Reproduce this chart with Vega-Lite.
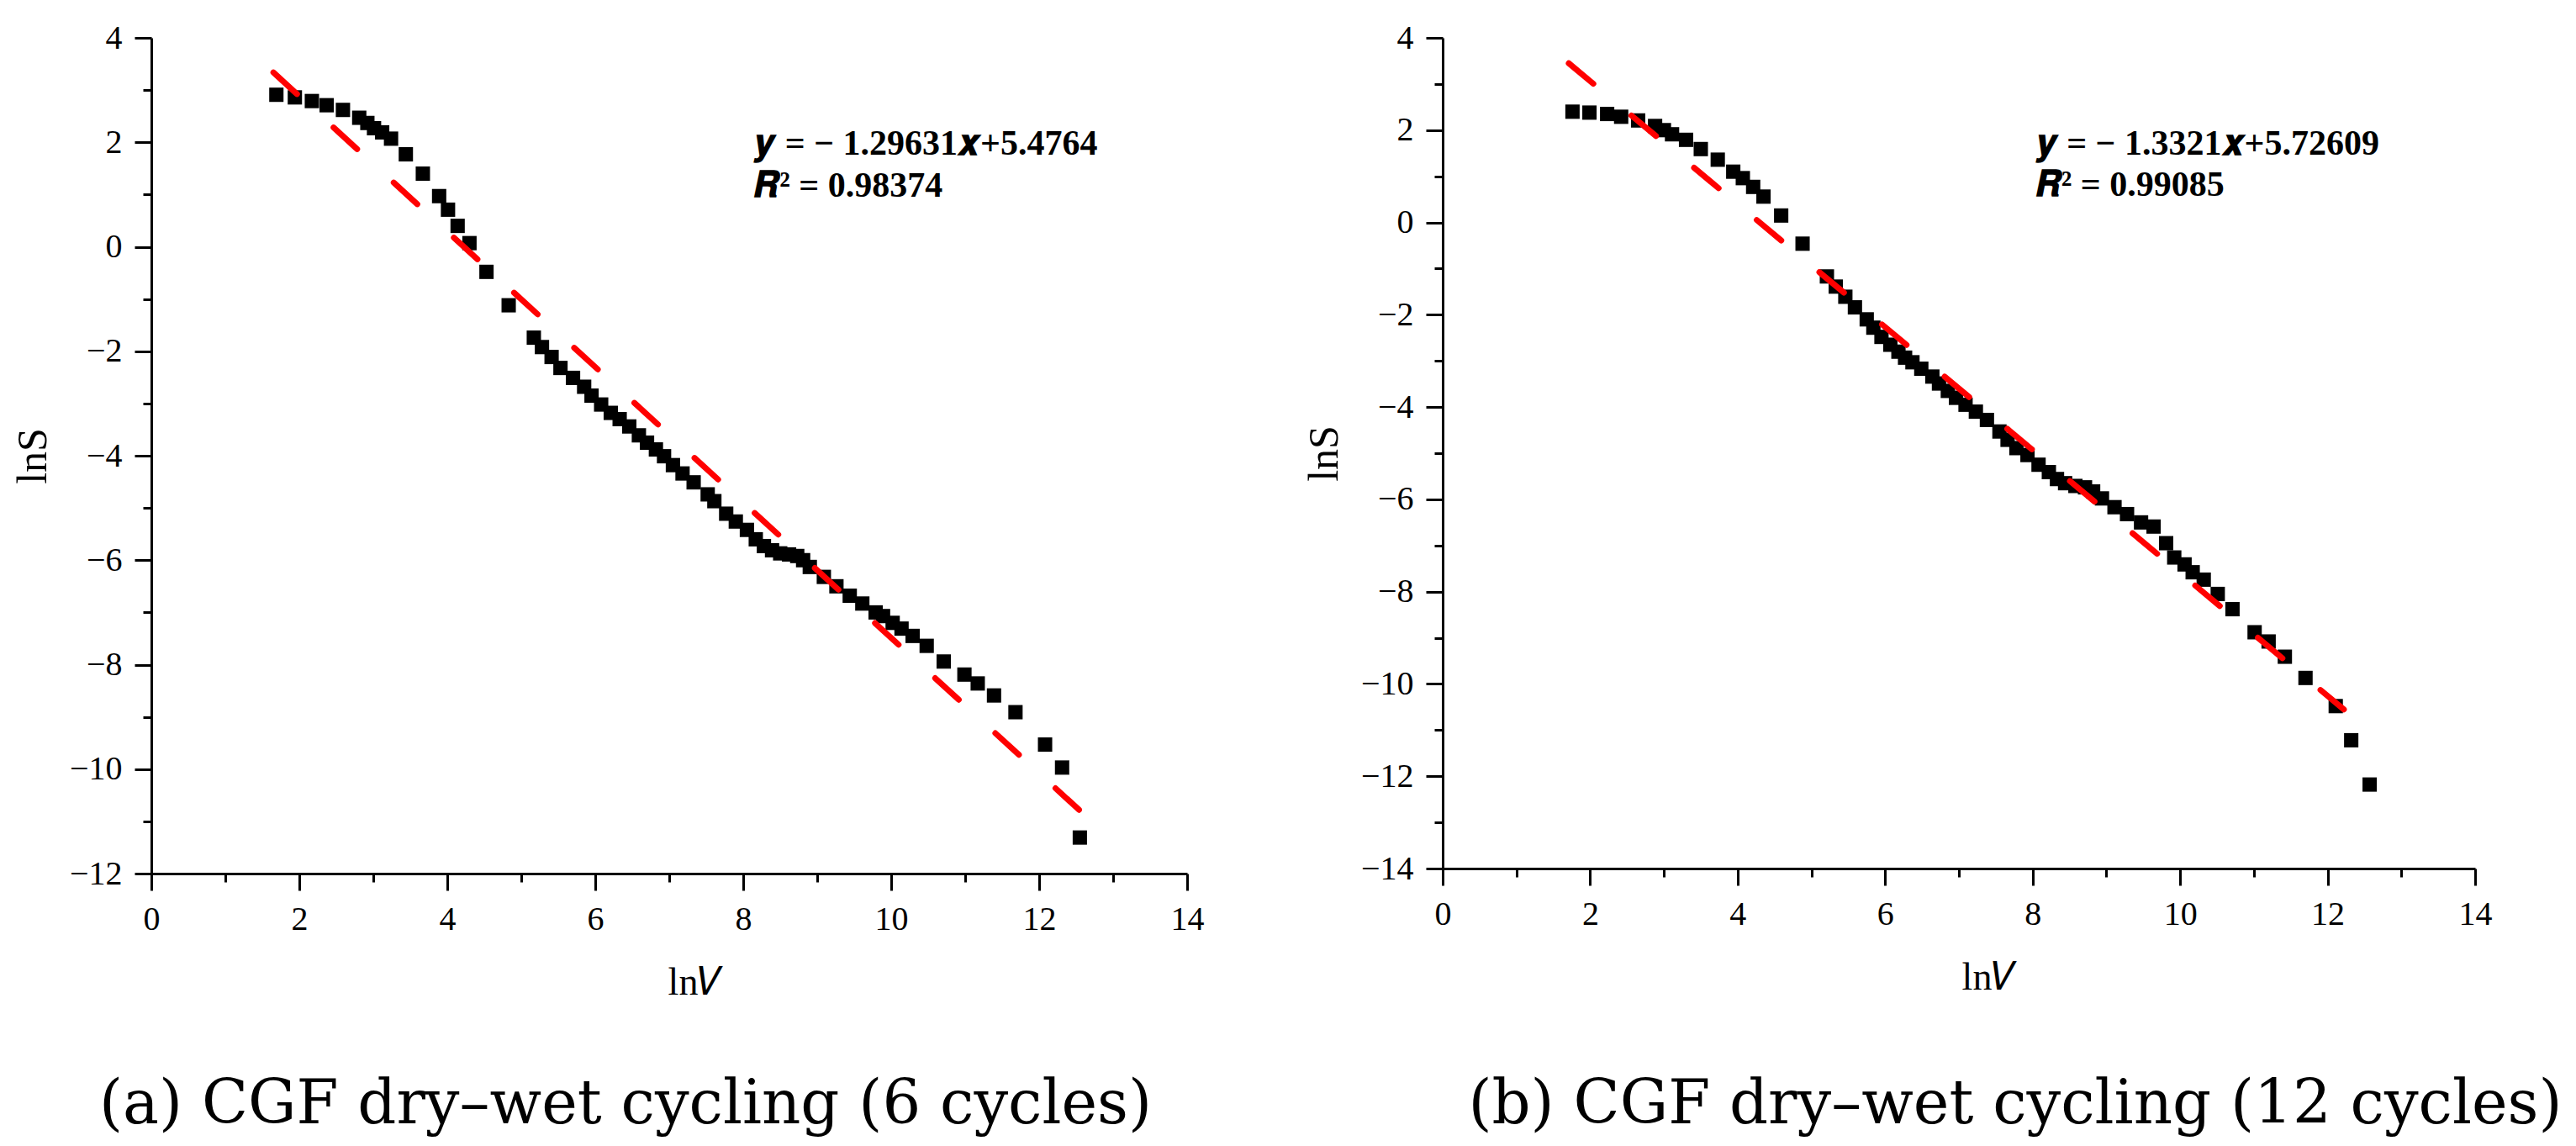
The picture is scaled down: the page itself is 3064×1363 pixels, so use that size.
{
  "$schema": "https://vega.github.io/schema/vega-lite/v6.json",
  "background": "white",
  "padding": {"left": 14, "top": 25, "right": 0, "bottom": 30},
  "config": {
    "view": {"stroke": null},
    "font": "Liberation Serif",
    "axis": {
      "grid": false,
      "domainColor": "black",
      "domainWidth": 3,
      "tickColor": "black",
      "tickWidth": 3,
      "labelColor": "black",
      "labelFont": "Liberation Serif",
      "labelFontSize": 40,
      "labelOverlap": false,
      "labelFlush": false,
      "format": "d",
      "titleColor": "black",
      "titleFont": "Liberation Serif",
      "titleFontWeight": "normal"
    }
  },
  "datasets": {
    "cycles6": [
      {"lnV": 1.69, "lnS": 2.91}, {"lnV": 1.94, "lnS": 2.86}, {"lnV": 2.17, "lnS": 2.79},
      {"lnV": 2.37, "lnS": 2.71}, {"lnV": 2.59, "lnS": 2.62}, {"lnV": 2.81, "lnS": 2.47},
      {"lnV": 2.92, "lnS": 2.37}, {"lnV": 3.01, "lnS": 2.27}, {"lnV": 3.12, "lnS": 2.19},
      {"lnV": 3.24, "lnS": 2.07}, {"lnV": 3.44, "lnS": 1.77}, {"lnV": 3.67, "lnS": 1.4},
      {"lnV": 3.89, "lnS": 0.97}, {"lnV": 4.01, "lnS": 0.71}, {"lnV": 4.14, "lnS": 0.4},
      {"lnV": 4.3, "lnS": 0.07}, {"lnV": 4.53, "lnS": -0.48}, {"lnV": 4.83, "lnS": -1.12},
      {"lnV": 5.17, "lnS": -1.74}, {"lnV": 5.28, "lnS": -1.92}, {"lnV": 5.41, "lnS": -2.11},
      {"lnV": 5.53, "lnS": -2.32}, {"lnV": 5.7, "lnS": -2.51}, {"lnV": 5.85, "lnS": -2.68},
      {"lnV": 5.95, "lnS": -2.85}, {"lnV": 6.08, "lnS": -3.02}, {"lnV": 6.21, "lnS": -3.18},
      {"lnV": 6.33, "lnS": -3.3}, {"lnV": 6.46, "lnS": -3.44}, {"lnV": 6.59, "lnS": -3.61},
      {"lnV": 6.7, "lnS": -3.75}, {"lnV": 6.82, "lnS": -3.88}, {"lnV": 6.93, "lnS": -4.01},
      {"lnV": 7.05, "lnS": -4.18}, {"lnV": 7.18, "lnS": -4.34}, {"lnV": 7.33, "lnS": -4.51},
      {"lnV": 7.52, "lnS": -4.74}, {"lnV": 7.61, "lnS": -4.87}, {"lnV": 7.77, "lnS": -5.11},
      {"lnV": 7.9, "lnS": -5.26}, {"lnV": 8.05, "lnS": -5.42}, {"lnV": 8.17, "lnS": -5.6},
      {"lnV": 8.28, "lnS": -5.73}, {"lnV": 8.39, "lnS": -5.81}, {"lnV": 8.5, "lnS": -5.87},
      {"lnV": 8.62, "lnS": -5.89}, {"lnV": 8.73, "lnS": -5.92}, {"lnV": 8.81, "lnS": -6.0},
      {"lnV": 8.9, "lnS": -6.13}, {"lnV": 9.09, "lnS": -6.32}, {"lnV": 9.26, "lnS": -6.5},
      {"lnV": 9.44, "lnS": -6.68}, {"lnV": 9.61, "lnS": -6.83}, {"lnV": 9.79, "lnS": -7.0},
      {"lnV": 9.89, "lnS": -7.07}, {"lnV": 10.02, "lnS": -7.2}, {"lnV": 10.14, "lnS": -7.31},
      {"lnV": 10.29, "lnS": -7.45}, {"lnV": 10.48, "lnS": -7.64}, {"lnV": 10.71, "lnS": -7.94},
      {"lnV": 10.99, "lnS": -8.19}, {"lnV": 11.17, "lnS": -8.36}, {"lnV": 11.39, "lnS": -8.59},
      {"lnV": 11.68, "lnS": -8.91}, {"lnV": 12.08, "lnS": -9.53}, {"lnV": 12.31, "lnS": -9.97},
      {"lnV": 12.55, "lnS": -11.31}
    ],
    "cycles12": [
      {"lnV": 1.76, "lnS": 2.4}, {"lnV": 1.99, "lnS": 2.38}, {"lnV": 2.23, "lnS": 2.35},
      {"lnV": 2.42, "lnS": 2.29}, {"lnV": 2.65, "lnS": 2.21}, {"lnV": 2.88, "lnS": 2.09},
      {"lnV": 3.0, "lnS": 2.0}, {"lnV": 3.11, "lnS": 1.91}, {"lnV": 3.3, "lnS": 1.79},
      {"lnV": 3.5, "lnS": 1.59}, {"lnV": 3.73, "lnS": 1.36}, {"lnV": 3.94, "lnS": 1.1},
      {"lnV": 4.07, "lnS": 0.96}, {"lnV": 4.21, "lnS": 0.77}, {"lnV": 4.35, "lnS": 0.56},
      {"lnV": 4.59, "lnS": 0.15}, {"lnV": 4.88, "lnS": -0.46}, {"lnV": 5.21, "lnS": -1.17},
      {"lnV": 5.33, "lnS": -1.39}, {"lnV": 5.46, "lnS": -1.61}, {"lnV": 5.59, "lnS": -1.84},
      {"lnV": 5.75, "lnS": -2.1}, {"lnV": 5.84, "lnS": -2.28}, {"lnV": 5.95, "lnS": -2.48},
      {"lnV": 6.07, "lnS": -2.65}, {"lnV": 6.18, "lnS": -2.8}, {"lnV": 6.27, "lnS": -2.93},
      {"lnV": 6.37, "lnS": -3.03}, {"lnV": 6.49, "lnS": -3.17}, {"lnV": 6.64, "lnS": -3.34},
      {"lnV": 6.73, "lnS": -3.49}, {"lnV": 6.85, "lnS": -3.65}, {"lnV": 6.96, "lnS": -3.8},
      {"lnV": 7.09, "lnS": -3.95}, {"lnV": 7.23, "lnS": -4.1}, {"lnV": 7.38, "lnS": -4.28},
      {"lnV": 7.55, "lnS": -4.53}, {"lnV": 7.66, "lnS": -4.71}, {"lnV": 7.78, "lnS": -4.89},
      {"lnV": 7.93, "lnS": -5.04}, {"lnV": 8.08, "lnS": -5.25}, {"lnV": 8.22, "lnS": -5.41},
      {"lnV": 8.33, "lnS": -5.56}, {"lnV": 8.44, "lnS": -5.65}, {"lnV": 8.58, "lnS": -5.71},
      {"lnV": 8.71, "lnS": -5.74}, {"lnV": 8.82, "lnS": -5.83}, {"lnV": 8.94, "lnS": -5.98},
      {"lnV": 9.11, "lnS": -6.17}, {"lnV": 9.28, "lnS": -6.32}, {"lnV": 9.47, "lnS": -6.5},
      {"lnV": 9.64, "lnS": -6.59}, {"lnV": 9.81, "lnS": -6.95}, {"lnV": 9.92, "lnS": -7.26},
      {"lnV": 10.06, "lnS": -7.41}, {"lnV": 10.17, "lnS": -7.58}, {"lnV": 10.32, "lnS": -7.74},
      {"lnV": 10.51, "lnS": -8.05}, {"lnV": 10.71, "lnS": -8.38}, {"lnV": 11.01, "lnS": -8.88},
      {"lnV": 11.2, "lnS": -9.08}, {"lnV": 11.42, "lnS": -9.41}, {"lnV": 11.7, "lnS": -9.87},
      {"lnV": 12.11, "lnS": -10.48}, {"lnV": 12.32, "lnS": -11.22}, {"lnV": 12.57, "lnS": -12.18}
    ],
    "fit": [
      {"panel": "a", "lnV": 1.65, "lnS": 3.337},
      {"panel": "a", "lnV": 12.58, "lnS": -10.832},
      {"panel": "b", "lnV": 1.71, "lnS": 3.448},
      {"panel": "b", "lnV": 12.22, "lnS": -10.552}
    ],
    "equation": [
      {"panel": "a", "lnV": 8.15, "lnS": 1.76, "label": "𝒚 = − 1.29631𝒙+5.4764"},
      {"panel": "a", "lnV": 8.15, "lnS": 0.96, "label": "𝑹² = 0.98374"},
      {"panel": "b", "lnV": 8.045, "lnS": 1.46, "label": "𝒚 = − 1.3321𝒙+5.72609"},
      {"panel": "b", "lnV": 8.045, "lnS": 0.57, "label": "𝑹² = 0.99085"}
    ]
  },
  "spacing": 118,
  "hconcat": [
    {
      "width": 1232,
      "height": 994,
      "title": {
        "text": "(a) CGF dry–wet cycling (6 cycles)",
        "orient": "bottom",
        "anchor": "middle",
        "frame": "group",
        "font": "DejaVu Serif",
        "fontSize": 72,
        "fontWeight": "normal",
        "color": "black",
        "offset": 88,
        "dx": -52
      },
      "layer": [
        {
          "data": {"name": "cycles6"},
          "mark": {"type": "point", "shape": "square", "filled": true, "size": 290, "color": "black", "opacity": 1},
          "encoding": {
            "x": {
              "field": "lnV",
              "type": "quantitative",
              "scale": {"domain": [0, 14], "nice": false, "zero": false},
              "axis": {
                "title": "ln𝑉",
                "titleFontSize": 46,
                "titlePadding": 33,
                "titleX": 647,
                "values": [0, 1, 2, 3, 4, 5, 6, 7, 8, 9, 10, 11, 12, 13, 14],
                "labelExpr": "datum.value % 2 === 0 ? datum.label : ''",
                "tickSize": {"expr": "datum.value % 2 === 0 ? 20 : 10"},
                "labelPadding": 14
              }
            },
            "y": {
              "field": "lnS",
              "type": "quantitative",
              "scale": {"domain": [-12, 4], "nice": false, "zero": false},
              "axis": {
                "title": "lnS",
                "titleFontSize": 50,
                "titlePadding": 18,
                "values": [-12, -11, -10, -9, -8, -7, -6, -5, -4, -3, -2, -1, 0, 1, 2, 3, 4],
                "labelExpr": "datum.value % 2 === 0 ? datum.label : ''",
                "tickSize": {"expr": "datum.value % 2 === 0 ? 20 : 10"},
                "labelPadding": 15
              }
            }
          }
        },
        {
          "data": {"name": "fit"},
          "transform": [{"filter": "datum.panel === 'a'"}],
          "mark": {"type": "line", "color": "#ff0000", "strokeWidth": 7, "strokeDash": [38, 59], "strokeCap": "round"},
          "encoding": {
            "x": {"field": "lnV", "type": "quantitative"},
            "y": {"field": "lnS", "type": "quantitative"}
          }
        },
        {
          "data": {"name": "equation"},
          "transform": [{"filter": "datum.panel === 'a'"}],
          "mark": {"type": "text", "align": "left", "baseline": "alphabetic", "font": "Liberation Serif", "fontSize": 42, "fontWeight": "bold", "color": "black"},
          "encoding": {
            "x": {"field": "lnV", "type": "quantitative"},
            "y": {"field": "lnS", "type": "quantitative"},
            "text": {"field": "label"}
          }
        }
      ]
    },
    {
      "width": 1228,
      "height": 988,
      "title": {
        "text": "(b) CGF dry–wet cycling (12 cycles)",
        "orient": "bottom",
        "anchor": "middle",
        "frame": "group",
        "font": "DejaVu Serif",
        "fontSize": 72,
        "fontWeight": "normal",
        "color": "black",
        "offset": 94,
        "dx": 67
      },
      "layer": [
        {
          "data": {"name": "cycles12"},
          "mark": {"type": "point", "shape": "square", "filled": true, "size": 290, "color": "black", "opacity": 1},
          "encoding": {
            "x": {
              "field": "lnV",
              "type": "quantitative",
              "scale": {"domain": [0, 14], "nice": false, "zero": false},
              "axis": {
                "title": "ln𝑉",
                "titleFontSize": 46,
                "titlePadding": 33,
                "titleX": 650,
                "values": [0, 1, 2, 3, 4, 5, 6, 7, 8, 9, 10, 11, 12, 13, 14],
                "labelExpr": "datum.value % 2 === 0 ? datum.label : ''",
                "tickSize": {"expr": "datum.value % 2 === 0 ? 20 : 10"},
                "labelPadding": 14
              }
            },
            "y": {
              "field": "lnS",
              "type": "quantitative",
              "scale": {"domain": [-14, 4], "nice": false, "zero": false},
              "axis": {
                "title": "lnS",
                "titleFontSize": 50,
                "titlePadding": 18,
                "values": [-14, -13, -12, -11, -10, -9, -8, -7, -6, -5, -4, -3, -2, -1, 0, 1, 2, 3, 4],
                "labelExpr": "datum.value % 2 === 0 ? datum.label : ''",
                "tickSize": {"expr": "datum.value % 2 === 0 ? 20 : 10"},
                "labelPadding": 15
              }
            }
          }
        },
        {
          "data": {"name": "fit"},
          "transform": [{"filter": "datum.panel === 'b'"}],
          "mark": {"type": "line", "color": "#ff0000", "strokeWidth": 7, "strokeDash": [38, 59], "strokeCap": "round"},
          "encoding": {
            "x": {"field": "lnV", "type": "quantitative"},
            "y": {"field": "lnS", "type": "quantitative"}
          }
        },
        {
          "data": {"name": "equation"},
          "transform": [{"filter": "datum.panel === 'b'"}],
          "mark": {"type": "text", "align": "left", "baseline": "alphabetic", "font": "Liberation Serif", "fontSize": 42, "fontWeight": "bold", "color": "black"},
          "encoding": {
            "x": {"field": "lnV", "type": "quantitative"},
            "y": {"field": "lnS", "type": "quantitative"},
            "text": {"field": "label"}
          }
        }
      ]
    }
  ]
}
